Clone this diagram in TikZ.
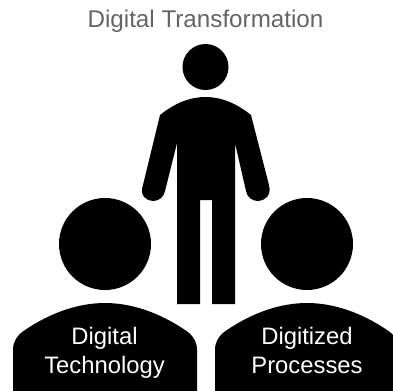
\documentclass[tikz,border=0pt]{standalone}
\usepackage{fontspec}
\setmainfont{Liberation Sans}
\tikzset{
  figure/.style={fill=black,draw=none},
  head/.style={circle,fill=black,draw=none,minimum size=92bp,inner sep=0pt},
  lab/.style={text=white,align=center,font=\fontsize{23.8bp}{29bp}\selectfont,inner sep=0pt,anchor=south},
}
\begin{document}
\begin{tikzpicture}[x=1bp,y=-1bp]
\useasboundingbox (0,0) rectangle (393,391);
\clip (0,0) rectangle (393,391);
\node[text={rgb,255:red,100;green,100;blue,100},font=\fontsize{24.2bp}{26bp}\selectfont,inner sep=0pt,anchor=base] (title) at (205.5,27) {Digital Transformation};
\node[circle,fill=black,minimum size=46bp,inner sep=0pt] (tophead) at (205.5,67) {};
\fill[figure] (160,115)
  .. controls (175,103) and (190,97) .. (205.5,97)
  .. controls (221,97) and (236,103) .. (251,115)
  -- (269,185)
  .. controls (272,196) and (264,201) .. (258,201)
  .. controls (252,201) and (247,197) .. (246,191)
  -- (235,143) -- (235,304) -- (212,304) -- (212,200) -- (200,200) -- (200,304) -- (177,304) -- (177,143)
  -- (165,191)
  .. controls (164,197) and (159,201) .. (153,201)
  .. controls (147,201) and (139,196) .. (143,185)
  -- cycle;
\node[head] (lefthead) at (105,244) {};
\node[head] (righthead) at (307,244) {};
\fill[figure] (13,391) -- (13,350)
  .. controls (13,342) and (17,335) .. (25,330)
  .. controls (50,313) and (78,303) .. (105,303)
  .. controls (132,303) and (160,313) .. (185,330)
  .. controls (193,335) and (197,342) .. (197,350)
  -- (197,391) -- cycle;
\fill[figure] (215,391) -- (215,350)
  .. controls (215,342) and (219,335) .. (227,330)
  .. controls (252,313) and (280,303) .. (307,303)
  .. controls (334,303) and (362,313) .. (387,330)
  .. controls (395,335) and (399,342) .. (399,350)
  -- (399,391) -- cycle;
\node[lab] (tech) at (104.5,382) {Digital\strut\\Technology\strut};
\node[lab] (proc) at (307,382) {Digitized\strut\\Processes\strut};
\end{tikzpicture}
\end{document}
